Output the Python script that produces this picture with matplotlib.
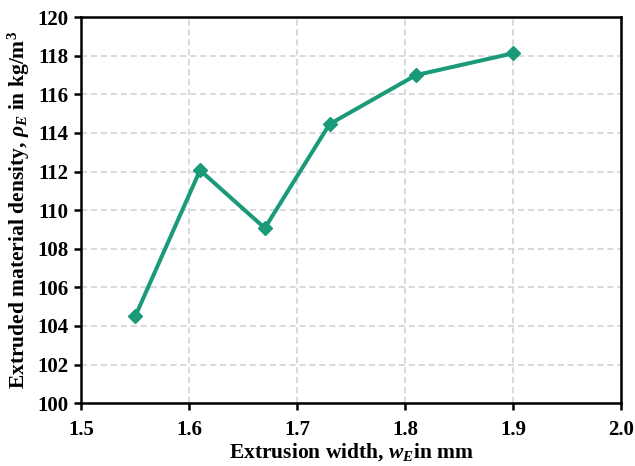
import matplotlib.pyplot as plt
from matplotlib.ticker import MultipleLocator

plt.rcParams['font.family'] = 'Liberation Serif'
plt.rcParams['font.weight'] = 'bold'
plt.rcParams['mathtext.fontset'] = 'custom'
plt.rcParams['mathtext.it'] = 'Liberation Serif:italic:bold'
plt.rcParams['mathtext.rm'] = 'Liberation Serif:bold'
plt.rcParams['mathtext.bf'] = 'Liberation Serif:bold'

# Datos
ancho = [1.55, 1.61, 1.67, 1.73, 1.81, 1.90]
densidad = [104.5, 112.07, 109.07, 114.46, 117.0, 118.13]

color_linea = '#1b9a7a'

fig, ax = plt.subplots(figsize=(6.35, 4.66), dpi=100)
fig.subplots_adjust(left=0.128, right=0.978, top=0.963, bottom=0.135)

ax.plot(ancho, densidad, color=color_linea, lw=2.9, marker='D', ms=7, zorder=3)

ax.set_xlim(1.5, 2.0)
ax.set_ylim(100, 120)
ax.xaxis.set_major_locator(MultipleLocator(0.1))
ax.yaxis.set_major_locator(MultipleLocator(2))
ax.xaxis.set_major_formatter(plt.FormatStrFormatter('%.1f'))

ax.grid(True, color='#d0d0d0', ls=(0, (4, 2.5)), lw=1.1, zorder=0)
for s in ax.spines.values():
    s.set_linewidth(1.8)
ax.tick_params(direction='out', length=5, width=1.8, labelsize=15, pad=4)
ax.tick_params(axis='x', pad=7)

ax.set_xlabel(r'Extrusion width, $w_E$in mm', fontsize=15.5, fontweight='bold', labelpad=1)
ax.set_ylabel(r'Extruded material density, $\rho_E$ in kg/m$^3$', fontsize=15.5,
              fontweight='bold', labelpad=4)

plt.savefig('out.png', dpi=100)
plt.close()
